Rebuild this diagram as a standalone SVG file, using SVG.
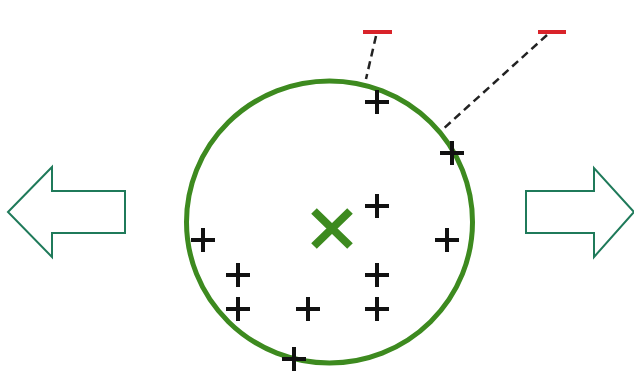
<svg xmlns="http://www.w3.org/2000/svg" width="634" height="374" viewBox="0 0 634 374">
<defs>
<style>
.arrow{fill:#fff;stroke:#1f7a5a;stroke-width:2;stroke-linejoin:miter}
.plus{stroke:#111;stroke-width:4;stroke-linecap:butt}
.minus{stroke:#d9232a;stroke-width:4}
.dash{stroke:#222;stroke-width:2.5;stroke-dasharray:8 5;fill:none}
.circle{fill:none;stroke:#3d8a1f;stroke-width:5}
.cross{stroke:#3d8a1f;stroke-width:8;stroke-linecap:butt}
</style>
<symbol id="p" overflow="visible"><path class="plus" d="M-12 0H12M0 -12V12"/></symbol>
</defs>
<g id="left-arrow"><polygon class="arrow" points="8,212 52,167 52,191 125,191 125,233 52,233 52,257"/></g>
<g id="right-arrow"><polygon class="arrow" points="526,191 594,191 594,168 634,212 594,257 594,233 526,233"/></g>
<g id="connectors">
<line class="dash" x1="376" y1="36" x2="366" y2="79"/>
<line class="dash" x1="547" y1="35" x2="442" y2="130"/>
</g>
<g id="cluster"><ellipse class="circle" cx="329.5" cy="222" rx="143" ry="141"/></g>
<g id="centroid"><path class="cross" d="M314 211L350 246M350 211L314 246"/></g>
<g id="minus1"><line class="minus" x1="363" y1="32" x2="392" y2="32"/></g>
<g id="minus2"><line class="minus" x1="538" y1="32" x2="566" y2="32"/></g>
<g id="points">
<use href="#p" x="377" y="102"/>
<use href="#p" x="452" y="153"/>
<use href="#p" x="377" y="206"/>
<use href="#p" x="447" y="240"/>
<use href="#p" x="203" y="240"/>
<use href="#p" x="238" y="275"/>
<use href="#p" x="377" y="275"/>
<use href="#p" x="238" y="309"/>
<use href="#p" x="308" y="309"/>
<use href="#p" x="377" y="309"/>
<use href="#p" x="294" y="359"/>
</g>
</svg>
